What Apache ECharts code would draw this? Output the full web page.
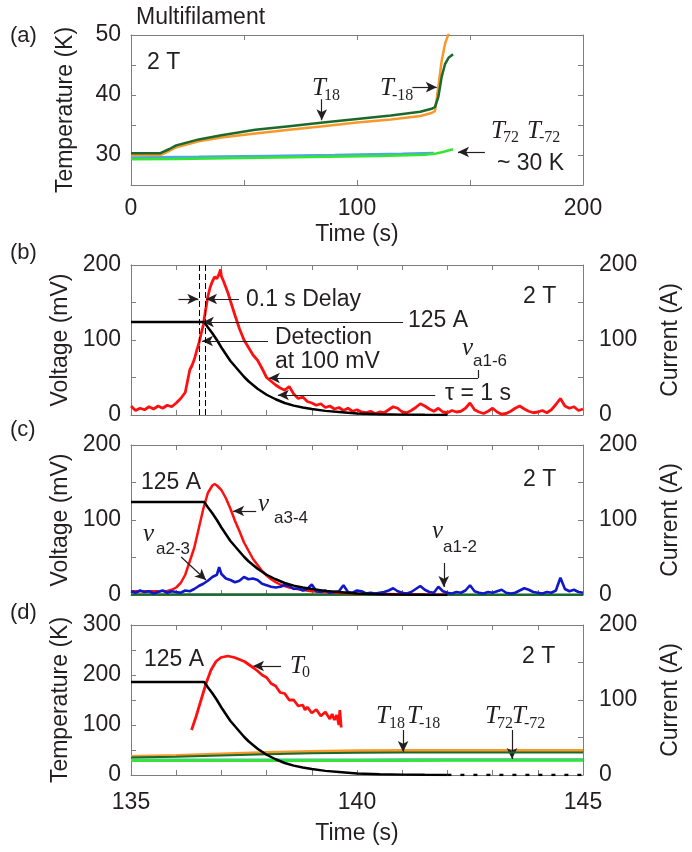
<!DOCTYPE html>
<html><head><meta charset="utf-8">
<script src="https://cdn.jsdelivr.net/npm/echarts@6/dist/echarts.min.js"></script>
<style>html,body{margin:0;padding:0;background:#fff}#c{width:692px;height:852px}</style>
</head><body><div id="c"></div>
<script>
// ---------- Panel (a): temperatures vs time (0-200 s) ----------
const aT18Time = [0, 13, 17, 20, 25, 30, 40, 55, 70, 85, 100, 115, 128, 133, 134.5, 136, 137.5, 139, 140.5, 142.5];
const aT18Val  = [30.3, 30.3, 31.0, 31.6, 32.1, 32.6, 33.3, 34.2, 34.8, 35.4, 36.0, 36.6, 37.2, 37.7, 38.0, 39.7, 43.1, 45.2, 46.2, 46.8];
const aTm18Time = [0, 13, 16.5, 20, 25, 30, 40, 55, 70, 85, 100, 115, 128, 133, 134.5, 136, 137.5, 139, 140.5, 142];
const aTm18Val  = [30.0, 30.0, 30.6, 31.3, 31.8, 32.3, 32.9, 33.6, 34.2, 34.8, 35.4, 35.9, 36.5, 37.0, 37.3, 41.4, 45.8, 48.6, 50.2, 52];
const aT72Time = [0, 20, 50, 80, 110, 130, 135, 138, 140, 142.5];
const aT72Val  = [29.3, 29.35, 29.5, 29.65, 29.85, 30.05, 30.25, 30.5, 30.7, 30.95];
const aTm72Time = [0, 30, 60, 90, 120, 134];
const aTm72Val  = [29.6, 29.7, 29.85, 30.0, 30.2, 30.35];

// ---------- Current (A), shared by panels (b)-(d) ----------
const curTime = [135.0, 136.62, 136.7, 136.8, 136.9, 137.0, 137.1, 137.2, 137.3, 137.4, 137.5, 137.6, 137.7, 137.8, 137.9, 138.0, 138.2, 138.4, 138.6, 138.8, 139.0, 139.3, 139.6, 140.0, 140.5, 141.0, 141.5, 142.0];
const curVal  = [124, 124, 117, 109, 100, 90, 81, 72, 65, 58, 51, 45, 40, 35, 31, 27, 21, 16, 12.5, 10, 8, 5.5, 4, 2, 1, 0.5, 0.2, 0];
const curTailTime = [142.0, 145.0];
const curTailVal  = [0, 0];

// ---------- Panel (b): v_a1-6 (mV) ----------
const bVoltTime = [135.0,135.1,135.2,135.3,135.4,135.5,135.6,135.7,135.8,135.9,136.0,136.1,136.2,
  136.25,136.3,136.35,136.4,136.45,136.5,136.55,136.6,136.65,136.7,136.75,136.8,136.85,136.9,136.95,
  136.98,137.0,137.05,137.1,137.15,137.2,
  137.3,137.4,137.5,137.6,137.7,137.8,137.9,138.0,138.1,138.2,138.3,138.4,138.5,138.6,138.7,138.8,138.9,
  139.0,139.1,139.2,139.3,139.4,139.5,139.6,139.7,139.8,139.9,140.0,140.1,140.2,140.3,140.4,140.5,140.6,
  140.7,140.8,140.9,141.0,141.1,141.2,141.3,141.4,141.5,141.6,141.7,141.8,141.9,142.0,142.1,142.2,142.3,
  142.4,142.5,142.6,142.7,142.8,142.9,143.0,143.1,143.2,143.3,143.4,143.5,143.6,143.7,143.8,143.9,144.0,
  144.1,144.2,144.3,144.4,144.5,144.6,144.7,144.8,144.9,145.0];
const bVoltVal = [12,6,9,7,11,8,12,9,13,11,16,22,30,
  45,60,66,74,85,95,108,120,140,158,170,178,184,182,188,
  194,185,178,170,162,152,
  133,115,100,90,80,73,62,50,45,40,36,33,38,28,22,24,18,
  16,13,15,10,12,8,10,6,9,5,7,4,3,5,2,4,3,
  7,11,9,4,3,6,10,15,12,8,5,9,4,3,6,4,5,
  9,16,7,4,2,5,9,4,1,2,5,9,12,8,5,3,4,
  6,3,7,14,22,12,9,11,6,8];

// ---------- Panel (c): v_a3-4, v_a2-3, v_a1-2 (mV) ----------
const cA34Time = [135.0,135.5,135.8,135.9,136.0,136.1,136.2,136.3,136.4,136.5,136.6,136.7,136.8,136.85,136.9,
  137.0,137.1,137.2,137.3,137.4,137.5,137.6,137.7,137.8,137.9,138.0,138.1,138.2,138.3,138.5,138.7,139.0,139.5,140.0,141.0,142.0];
const cA34Val = [5,5,5.5,7,10,16,27,45,63,89,115,136,146,148,146,
  140,129,115,99,85,70,59,48,40,32,26,21,17,14,10,7.5,5,3,2,1,0.5];
const cA23Time = [135.0,135.1,135.2,135.3,135.4,135.5,135.6,135.7,135.8,135.9,136.0,136.1,136.2,136.3,136.4,
  136.5,136.6,136.7,136.8,136.9,136.95,137.0,137.1,137.2,137.3,137.4,137.5,137.6,137.7,137.8,137.9,138.0,
  138.1,138.2,138.3,138.4,138.5,138.6,138.7,138.8,138.9,139.0,139.1,139.2,139.3,139.4,139.5,139.6,139.7,
  139.8,139.9,140.0,140.1,140.2,140.3,140.4,140.5,140.6,140.7,140.8,140.9,141.0,141.1,141.2,141.3,141.4,
  141.5,141.6,141.7,141.8,141.9,142.0,142.1,142.2,142.3,142.4,142.5,142.6,142.7,142.8,142.9,143.0,143.1,
  143.2,143.3,143.4,143.5,143.6,143.7,143.8,143.9,144.0,144.1,144.2,144.3,144.4,144.5,144.6,144.7,144.8,144.9,145.0];
const cA23Val = [5,3,6,4,5,2,4,6,3,5,4,3,6,5,8,
  12,15,19,24,27,37,28,22,20,17,19,24,21,22,20,15,13,
  11,10,11,13,12,8,9,6,8,14,5,4,6,3,4,5,13,
  4,3,6,5,2,3,2,3,4,6,9,5,3,2,4,8,12,
  7,4,3,11,5,3,2,4,3,6,13,5,3,2,4,3,5,
  7,3,2,3,6,9,7,4,3,2,4,3,6,23,8,5,7,4,3];
const cA12Time = [135, 137, 139, 141, 143, 145];
const cA12Val  = [0.8, 0.8, 0.6, 0.6, 0.5, 0.5];

// ---------- Panel (d): temperatures (K) ----------
const dT0Time = [136.34,136.44,136.55,136.66,136.77,136.88,136.99,137.14,137.29,137.51,137.73,
  137.8,137.9,138.0,138.1,138.2,138.3,138.4,138.5,138.6,138.7,138.8,
  138.85,138.9,139.0,139.1,139.2,139.3,139.4,139.45,139.5,139.55,139.6,139.62,139.65];
const dT0Val = [90,117,150,183,210,227,235,238,235,227,213,
  208,200,195,183,178,165,163,150,150,138,140,
  130,136,124,131,118,126,112,122,110,120,100,130,95];
const dTime   = [135, 136, 137, 138, 139, 140, 141, 142, 143, 144, 145];
const dTm18Val = [37, 39, 42, 45, 47, 48.5, 49, 49, 49, 49, 49];
const dT18Val  = [35, 36.5, 39, 41.5, 43.5, 44.5, 45, 45, 45, 45, 45];
const dT72Val  = [29, 29, 29, 29.1, 29.1, 29.2, 29.2, 29.3, 29.3, 29.4, 29.4];
const dTm72Val = [30, 30, 30.1, 30.1, 30.2, 30.2, 30.3, 30.3, 30.4, 30.4, 30.5];

// ---------- tick label sets ----------
const aXLabels = [0, 100, 200];
const aYLabels = [30, 40, 50];
const bcYLabels = [0, 100, 200];
const dXLabels = [135, 140, 145];
const dYLabels = [0, 100, 200, 300];
const curLabels = [0, 100, 200];

// ---------- styling ----------
const SANS = '"Liberation Sans", Arial, Helvetica, sans-serif';
const SERIF = '"Liberation Serif", "Times New Roman", serif';
const TXT = '#231f20';
const AXC = '#7d7d7d';
const C = {red:'#ff1010', black:'#000000', dgreen:'#1b6a2c', orange:'#f7982a', lgreen:'#33e633', lblue:'#4ea6e0', blue:'#1018c8'};

function zip(a, b) { return a.map((t, i) => [t, b[i]]); }
function fmt(list) { return v => (list.indexOf(Math.round(v)) >= 0 && Math.abs(v - Math.round(v)) < 1e-6) ? String(Math.round(v)) : ''; }
function axis(gi, min, max, iv, pos, labels, margin) {
  return {
    gridIndex: gi, type: 'value', min: min, max: max, interval: iv, position: pos,
    axisLine: {onZero: false, lineStyle: {color: AXC, width: 1}},
    axisTick: {inside: true, length: 5, lineStyle: {color: AXC, width: 1}},
    splitLine: {show: false},
    axisLabel: labels ? {show: true, margin: margin, fontSize: 23, fontFamily: SANS, color: TXT, formatter: fmt(labels)} : {show: false}
  };
}
function named(ax, name, gap, rot) {
  ax.name = name; ax.nameLocation = 'middle'; ax.nameGap = gap;
  if (rot !== undefined) ax.nameRotate = rot;
  ax.nameTextStyle = {fontSize: 23, fontFamily: SANS, color: TXT};
  return ax;
}
function line(xi, yi, T, V, color, width, z, extra) {
  return Object.assign({
    type: 'line', xAxisIndex: xi, yAxisIndex: yi, data: zip(T, V), symbol: 'none', showSymbol: false,
    lineStyle: {color: color, width: width}, itemStyle: {color: color}, z: z || 2, animation: false, silent: true
  }, extra || {});
}
function arrows(list) {
  return {
    silent: true, animation: false, symbol: ['none', 'arrow'], symbolSize: [8, 11],
    lineStyle: {color: TXT, width: 1.2, type: 'solid'}, label: {show: false}, emphasis: {disabled: true},
    data: list
  };
}
function seg(x1, y1, x2, y2, noHead) {
  return [{coord: [x1, y1], symbol: 'none'}, {coord: [x2, y2], symbol: noHead ? 'none' : 'arrow'}];
}
function txt(text, x, y, font, align) {
  return {type: 'text', x: x, y: y, silent: true, z: 100,
    style: {text: text, font: font, fill: TXT, align: align || 'left', verticalAlign: 'middle'}};
}
const F = '23px ' + SANS;
const FI = 'italic 25px ' + SERIF;
const FS = '16px ' + SERIF;
const FSS = '17px ' + SANS;

const grids = [
  {left: 131, top: 35, width: 452, height: 150},
  {left: 131, top: 265, width: 452, height: 150},
  {left: 131, top: 445, width: 452, height: 150},
  {left: 131, top: 625, width: 452, height: 150}
];

const xAxes = [
  named(axis(0, 0, 200, 50, 'bottom', aXLabels, 12), 'Time (s)', 38),
  axis(1, 135, 145, 1, 'bottom', null),
  axis(2, 135, 145, 1, 'bottom', null),
  named(axis(3, 135, 145, 1, 'bottom', dXLabels, 16), 'Time (s)', 47),
  axis(0, 0, 200, 50, 'top', null),
  axis(1, 135, 145, 1, 'top', null),
  axis(2, 135, 145, 1, 'top', null),
  axis(3, 135, 145, 1, 'top', null)
];
const yAxes = [
  named(axis(0, 25, 50, 5, 'left', aYLabels, 10), 'Temperature (K)', 54, 90),
  named(axis(1, 0, 200, 50, 'left', bcYLabels, 10), 'Voltage (mV)', 54, 90),
  named(axis(2, 0, 200, 50, 'left', bcYLabels, 10), 'Voltage (mV)', 54, 90),
  named(axis(3, 0, 300, 50, 'left', dYLabels, 10), 'Temperature (K)', 54, 90),
  axis(0, 25, 50, 5, 'right', null),
  named(axis(1, 0, 200, 50, 'right', curLabels, 16), 'Current (A)', 76, 90),
  named(axis(2, 0, 200, 50, 'right', curLabels, 16), 'Current (A)', 76, 90),
  named(axis(3, 0, 200, 50, 'right', curLabels, 16), 'Current (A)', 76, 90)
];

const series = [
  // (a)
  line(0, 0, aTm72Time, aTm72Val, C.lblue, 2.5, 2),
  line(0, 0, aT72Time, aT72Val, C.lgreen, 2.5, 3),
  line(0, 0, aTm18Time, aTm18Val, C.orange, 2.5, 4),
  line(0, 0, aT18Time, aT18Val, C.dgreen, 2.5, 5, {markLine: arrows([
    seg(84.4, 39.3, 84.4, 35.8), seg(124.5, 41.3, 135.3, 41.3), seg(156.6, 30.5, 144.7, 30.5)])}),
  // (b)
  line(1, 1, bVoltTime, bVoltVal, C.red, 2.8, 3, {markLine: arrows([
    seg(136.05, 154.7, 136.49, 154.7), seg(137.39, 154.7, 136.66, 154.7),
    seg(141.02, 124, 136.59, 124), seg(138.03, 98.7, 136.57, 98.7),
    seg(142.68, 60, 142.68, 49.3, true), seg(142.68, 49.3, 138.05, 49.3),
    seg(141.73, 26.7, 138.25, 26.7)])}),
  line(1, 5, curTime, curVal, C.black, 2.5, 4, {markLine: {
    silent: true, animation: false, symbol: ['none', 'none'], label: {show: false},
    lineStyle: {color: '#000', width: 1, type: [6, 3]}, data: [{xAxis: 136.52}, {xAxis: 136.64}]}}),
  // (c)
  line(2, 2, cA12Time, cA12Val, C.dgreen, 2.5, 2),
  line(2, 2, cA34Time, cA34Val, C.red, 2.5, 3, {markLine: arrows([
    seg(137.77, 112, 137.26, 112), seg(136.11, 50.7, 136.66, 20), seg(141.92, 42.7, 141.92, 10.7)])}),
  line(2, 2, cA23Time, cA23Val, C.blue, 2.6, 4),
  line(2, 6, curTime, curVal, C.black, 2.5, 5),
  // (d)
  line(3, 3, dTime, dTm72Val, C.lblue, 3, 2),
  line(3, 3, dTime, dT72Val, C.lgreen, 3, 3),
  line(3, 3, dTime, dTm18Val, C.orange, 3, 4),
  line(3, 3, dTime, dT18Val, C.dgreen, 2.2, 5),
  line(3, 3, dT0Time, dT0Val, C.red, 2.8, 6, {markLine: arrows([
    seg(138.32, 218, 137.7, 218), seg(141.02, 90, 141.02, 46), seg(143.43, 90, 143.43, 32)])}),
  line(3, 7, curTime, curVal, C.black, 2.5, 7),
  line(3, 7, curTailTime, curTailVal, C.black, 2.5, 7, {lineStyle: {color: C.black, width: 2.5, type: [4, 9]}})
];

const graphic = [
  // (a)
  txt('Multifilament', 136, 18, F),
  txt('(a)', 10, 36, '22px ' + SANS),
  txt('2 T', 147, 63, F),
  txt('T', 312, 88, FI), txt('18', 324, 96, FS),
  txt('T', 380, 88, FI), txt('-18', 392, 96, FS),
  txt('T', 491, 131, FI), txt('72', 503, 138, FS),
  txt('T', 527, 131, FI), txt('-72', 539, 138, FS),
  txt('~ 30 K', 497, 164, F),
  // (b)
  txt('(b)', 10, 253, '22px ' + SANS),
  txt('2 T', 523, 297, F),
  txt('0.1 s Delay', 246, 300, F),
  txt('125 A', 408, 321, F),
  txt('Detection', 275, 338, F),
  txt('at 100 mV', 275, 362, F),
  txt('v', 462, 348, FI), txt('a1-6', 473, 361, FSS),
  txt('\u03c4 = 1 s', 445, 394, F),
  // (c)
  txt('(c)', 10, 430, '22px ' + SANS),
  txt('125 A', 141, 483, F),
  txt('2 T', 523, 480, F),
  txt('v', 258, 504, FI), txt('a3-4', 274, 518, FSS),
  txt('v', 143, 534, FI), txt('a2-3', 156, 549, FSS),
  txt('v', 432, 531, FI), txt('a1-2', 443, 547, FSS),
  // (d)
  txt('(d)', 10, 613, '22px ' + SANS),
  txt('125 A', 144, 660, F),
  txt('2 T', 522, 657, F),
  txt('T', 290, 666, FI), txt('0', 302, 673, FS),
  txt('T', 376, 716, FI), txt('18', 389, 724, FS),
  txt('T', 407, 716, FI), txt('-18', 419, 724, FS),
  txt('T', 485, 716, FI), txt('72', 497, 724, FS),
  txt('T', 512, 716, FI), txt('-72', 524, 724, FS)
];

const chart = echarts.init(document.getElementById('c'), null, {renderer: 'canvas'});
chart.setOption({
  backgroundColor: '#fff',
  animation: false,
  grid: grids,
  xAxis: xAxes,
  yAxis: yAxes,
  series: series,
  graphic: graphic
});
</script></body></html>
